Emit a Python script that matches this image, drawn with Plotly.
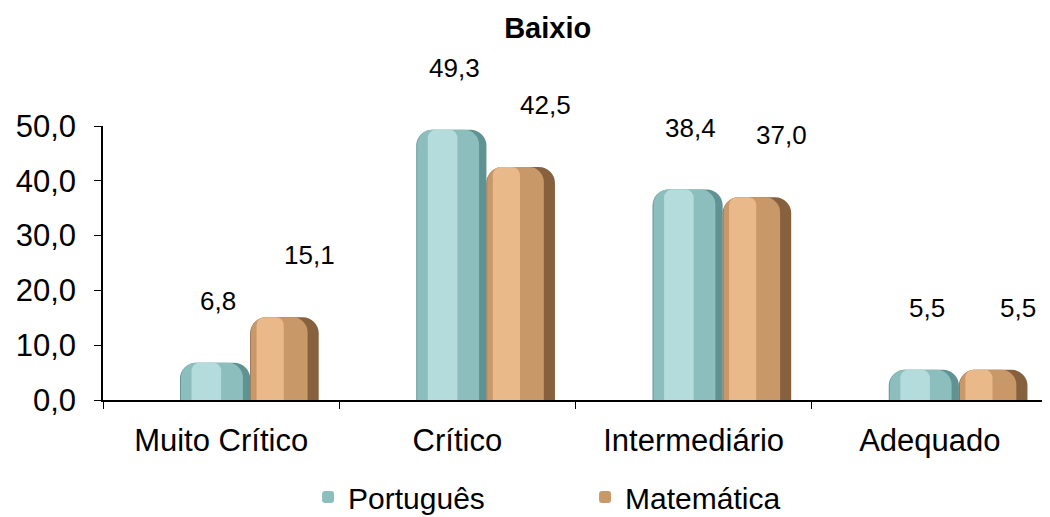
import plotly.graph_objects as go

categories = ["Muito Crítico", "Crítico", "Intermediário", "Adequado"]
portugues = [6.8, 49.3, 38.4, 5.5]
matematica = [15.1, 42.5, 37.0, 5.5]
series_names = ["Português", "Matemática"]
y_ticks = [0, 10, 20, 30, 40, 50]

FONT = "Arial, Liberation Sans, sans-serif"

def fmt(v):
    return f"{v:.1f}".replace(".", ",")

fig = go.Figure()

# layered bars to mimic cylinder shading: (offset, width, color, radius, legend)
layers = {
    "Português": [(-0.174, 0.297, "#5f9292", 16, False),
                  (-0.170, 0.262, "#8dbebe", 15, True),
                  (-0.125, 0.125, "#b4dcdc", 8, False)],
    "Matemática": [(0.123, 0.290, "#87603e", 16, False),
                   (0.126, 0.240, "#c99869", 15, True),
                   (0.150, 0.115, "#eab98a", 8, False)],
}

for name, vals in zip(series_names, [portugues, matematica]):
    for off, w, col, rad, leg in layers[name]:
        fig.add_trace(go.Bar(
            x=categories, y=vals, name=name,
            offset=off, width=w,
            marker=dict(color=col, cornerradius=rad, line=dict(width=0)),
            showlegend=leg, legendgroup=name,
            hoverinfo="skip" if not leg else None,
        ))

# data labels
label_xshift = {"Português": -3, "Matemática": 88}
for name, vals in zip(series_names, [portugues, matematica]):
    for c, v in zip(categories, vals):
        fig.add_annotation(x=c, y=v, text=fmt(v), showarrow=False,
                           xshift=label_xshift[name], yshift=62,
                           font=dict(family=FONT, size=26, color="#000000"))

fig.update_layout(
    width=1050, height=517,
    barmode="overlay",
    separators=",.",
    paper_bgcolor="white", plot_bgcolor="white",
    margin=dict(l=95, r=10, t=118, b=125, autoexpand=False),
    title=dict(text="<b>Baixio</b>", x=0.514, xanchor="center",
               y=1 - 20 / 517, yanchor="middle", yref="container",
               font=dict(family=FONT, size=29, color="#000000")),
    legend=dict(orientation="h", x=0.217, xanchor="left", y=-0.354, yanchor="middle",
                font=dict(family=FONT, size=30, color="#000000"),
                entrywidth=232, itemwidth=30, traceorder="normal",
                bgcolor="rgba(0,0,0,0)"),
    font=dict(family=FONT, color="#000000"),
)

fig.update_xaxes(
    type="category", showline=True, linecolor="#000000", linewidth=1.5,
    ticks="outside", tickson="boundaries", ticklen=7, tickcolor="#000000",
    tickfont=dict(family=FONT, size=31, color="#000000"),
    ticklabelstandoff=12, showgrid=False, zeroline=False,
)
fig.update_yaxes(
    range=[0, 50], tickvals=y_ticks, tickformat=".1f",
    showline=True, linecolor="#000000", linewidth=1.5,
    ticks="outside", ticklen=7, tickcolor="#000000",
    tickfont=dict(family=FONT, size=31, color="#000000"),
    ticklabelstandoff=12, showgrid=False, zeroline=False,
)

fig.write_html("out.html")
